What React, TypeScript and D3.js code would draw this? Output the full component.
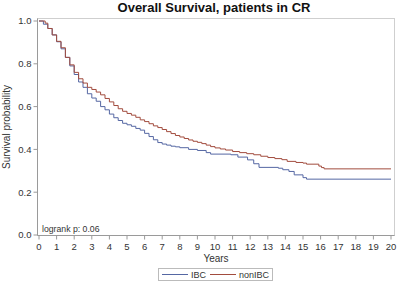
import React from "react";
import * as d3 from "d3";

const years = [0,1,2,3,4,5,6,7,8,9,10,11,12,13,14,15,16,17,18,19,20];
const yTicks = [0, 0.2, 0.4, 0.6, 0.8, 1.0];

const ibcTime = [0,0.25,0.5,0.75,1.0,1.25,1.5,1.75,2.0,2.25,2.5,2.75,3.0,3.25,3.5,3.75,4.0,4.25,4.5,4.75,5.0,5.25,5.5,5.75,6.0,6.25,6.5,6.75,7.0,7.25,7.5,7.75,8.0,8.5,9.0,9.5,9.75,10.9,11.3,11.85,12.2,12.5,13.6,13.85,14.2,14.5,15.0,15.2,20];
const ibcSurv = [1.0,0.985,0.965,0.935,0.903,0.87,0.83,0.79,0.75,0.715,0.69,0.66,0.64,0.625,0.60,0.585,0.565,0.548,0.535,0.522,0.515,0.508,0.498,0.49,0.475,0.46,0.445,0.432,0.425,0.42,0.415,0.412,0.408,0.4,0.395,0.385,0.378,0.375,0.364,0.351,0.333,0.316,0.312,0.305,0.297,0.281,0.268,0.261,0.261];

const nonTime = [0,0.35,0.5,0.75,1.0,1.25,1.5,1.75,2.0,2.25,2.5,2.75,3.0,3.25,3.5,3.75,4.0,4.25,4.5,4.75,5.0,5.25,5.5,5.75,6.0,6.25,6.5,6.75,7.0,7.25,7.5,7.75,8.0,8.25,8.5,8.75,9.0,9.25,9.5,9.75,10.0,10.3,10.6,11.0,11.4,11.8,12.2,12.6,13.0,13.4,13.8,14.1,14.6,15.0,15.2,15.9,16.05,16.2,20];
const nonSurv = [1.0,0.99,0.965,0.935,0.905,0.875,0.83,0.795,0.76,0.73,0.71,0.69,0.68,0.668,0.655,0.638,0.622,0.605,0.59,0.578,0.568,0.56,0.55,0.538,0.53,0.52,0.51,0.502,0.493,0.483,0.474,0.465,0.458,0.451,0.444,0.438,0.433,0.427,0.42,0.413,0.407,0.402,0.397,0.39,0.385,0.38,0.375,0.368,0.362,0.357,0.352,0.344,0.339,0.336,0.331,0.322,0.315,0.309,0.309];

const seriesNames = ["IBC", "nonIBC"];
const seriesColors = ["#5567a3", "#a24c3e"];

export default function App() {
  const W = 398, H = 281;
  const x = d3.scaleLinear().domain([0, 20]).range([39, 391]);
  const y = d3.scaleLinear().domain([0, 1]).range([235, 21]);
  const frame = { l: 37.5, r: 394.5, t: 18.5, b: 235.5 };
  const line = d3.line<[number, number]>().x(d => x(d[0])).y(d => y(d[1])).curve(d3.curveStepAfter);
  const ibc = ibcTime.map((t, i) => [t, ibcSurv[i]] as [number, number]);
  const non = nonTime.map((t, i) => [t, nonSurv[i]] as [number, number]);
  const font = "'Liberation Sans', Arial, sans-serif";
  const textColor = "#333";
  const axisColor = "#9a9a9a";
  return (
    <svg width={W} height={H} style={{ position: "absolute", left: 0, top: 0, background: "#fff" }} fontFamily={font}>
      <text x={214} y={12} textAnchor="middle" fontSize={13} fontWeight="bold" fill="#111">Overall Survival, patients in CR</text>
      <rect x={frame.l} y={frame.t} width={frame.r - frame.l} height={frame.b - frame.t} fill="none" stroke="#cfcfcf" strokeWidth={1} />
      <line x1={frame.l} x2={frame.l} y1={frame.t} y2={frame.b} stroke={axisColor} />
      <line x1={frame.l} x2={frame.r} y1={frame.b} y2={frame.b} stroke={axisColor} />
      {yTicks.map(v => (
        <g key={"y" + v}>
          <line x1={frame.l - 4} x2={frame.l} y1={y(v)} y2={y(v)} stroke={axisColor} />
          <text x={frame.l - 6} y={y(v)} dy="0.35em" textAnchor="end" fontSize={9.5} fill={textColor}>{v.toFixed(1)}</text>
        </g>
      ))}
      {years.map(v => (
        <g key={"x" + v}>
          <line x1={x(v)} x2={x(v)} y1={frame.b} y2={frame.b + 4} stroke={axisColor} />
          <text x={x(v)} y={frame.b + 14} textAnchor="middle" fontSize={9.5} fill={textColor}>{v}</text>
        </g>
      ))}
      <text transform={`translate(10,127) rotate(-90)`} textAnchor="middle" fontSize={10} fill={textColor}>Survival probability</text>
      <text x={216} y={262} textAnchor="middle" fontSize={10} fill={textColor}>Years</text>
      <text x={42} y={231.5} fontSize={8.7} fill={textColor}>logrank p: 0.06</text>
      <path d={line(ibc) || ""} fill="none" stroke={seriesColors[0]} strokeWidth={1} />
      <path d={line(non) || ""} fill="none" stroke={seriesColors[1]} strokeWidth={1} />
      <rect x={158.5} y={268.5} width={114} height={12} fill="none" stroke="#bbb" />
      {seriesNames.map((n, i) => {
        const lx = i === 0 ? 162 : 210;
        return (
          <g key={n}>
            <line x1={lx} x2={lx + 26} y1={274.5} y2={274.5} stroke={seriesColors[i]} />
            <text x={lx + 29} y={278} fontSize={9} fill={textColor}>{n}</text>
          </g>
        );
      })}
    </svg>
  );
}
